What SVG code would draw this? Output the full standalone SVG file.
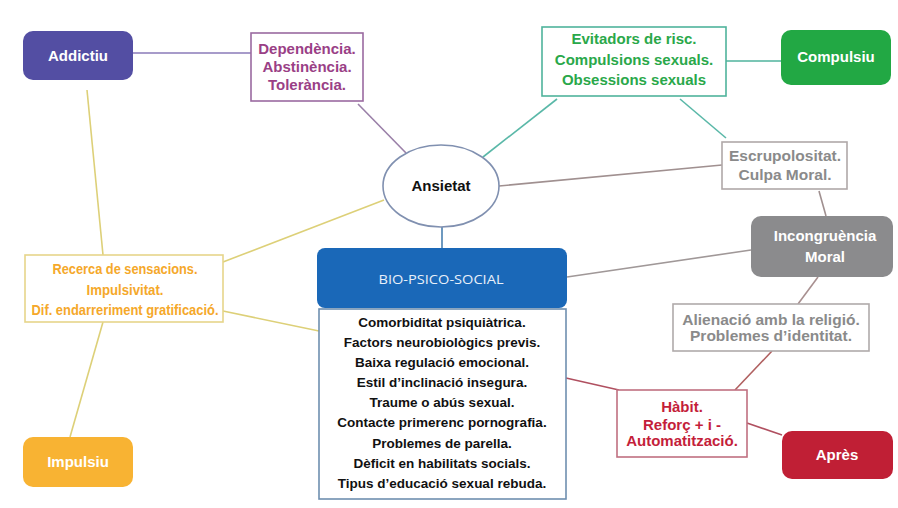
<svg xmlns="http://www.w3.org/2000/svg" width="898" height="508" viewBox="0 0 898 508">
<style>
text{font-family:"Liberation Sans",Arial,sans-serif;font-weight:bold;text-anchor:middle}
.w{fill:#ffffff;font-size:15px}
.c line{stroke-width:1.6;fill:none}
.box{fill:#ffffff;stroke-width:1.6}
</style>
<rect width="898" height="508" fill="#ffffff"/>
<g id="connectors" class="c">
<line x1="133" y1="53" x2="251" y2="53" stroke="#8a7ab8"/>
<line x1="358" y1="104" x2="406" y2="153" stroke="#9a80a8"/>
<line x1="726" y1="61" x2="781" y2="61" stroke="#4fb39c"/>
<line x1="557" y1="99" x2="483" y2="157" stroke="#5ab8a8"/>
<line x1="680" y1="99" x2="726" y2="138" stroke="#5ab8a8"/>
<line x1="722" y1="165" x2="499" y2="186" stroke="#a09090"/>
<line x1="819" y1="191" x2="826" y2="216" stroke="#a09090"/>
<line x1="751" y1="250" x2="567" y2="277" stroke="#a09898"/>
<line x1="442" y1="227" x2="442" y2="248" stroke="#4a80b0"/>
<line x1="87" y1="90" x2="103" y2="255" stroke="#ddd078"/>
<line x1="103" y1="322" x2="70" y2="437" stroke="#ddd078"/>
<line x1="223" y1="262" x2="384" y2="200" stroke="#ddd078"/>
<line x1="223" y1="311" x2="319" y2="331" stroke="#ddd078"/>
<line x1="818" y1="277" x2="798" y2="304" stroke="#a89090"/>
<line x1="772" y1="351" x2="735" y2="390" stroke="#b06060"/>
<line x1="566" y1="378" x2="619" y2="390" stroke="#b05060"/>
<line x1="747" y1="423" x2="782" y2="435" stroke="#b05060"/>
</g>
<g id="addictiu">
<rect x="23" y="31" width="110" height="49" rx="10" fill="#534ea3"/>
<text class="w" x="78" y="61">Addictiu</text>
</g>
<g id="dependencia">
<rect class="box" x="251" y="33" width="112" height="68" stroke="#9a6aa0"/>
<text x="307" y="54" font-size="15" fill="#9a3f86">Dependència.</text>
<text x="307" y="72" font-size="15" fill="#9a3f86">Abstinència.</text>
<text x="307" y="90" font-size="15" fill="#9a3f86">Tolerància.</text>
</g>
<g id="ansietat">
<ellipse cx="441" cy="186" rx="58" ry="41" fill="#ffffff" stroke="#8090b0" stroke-width="1.6"/>
<text x="441" y="191" font-size="15" fill="#111111">Ansietat</text>
</g>
<g id="evitadors">
<rect class="box" x="542" y="27" width="184" height="69" stroke="#4fb39c"/>
<text x="634" y="44" font-size="15" fill="#2aa84a">Evitadors de risc.</text>
<text x="634" y="65" font-size="15" fill="#2aa84a">Compulsions sexuals.</text>
<text x="634" y="85" font-size="15" fill="#2aa84a">Obsessions sexuals</text>
</g>
<g id="compulsiu">
<rect x="781" y="30" width="110" height="55" rx="10" fill="#22a844"/>
<text class="w" x="836" y="62">Compulsiu</text>
</g>
<g id="escrupolositat">
<rect class="box" x="722" y="142" width="125" height="47" stroke="#b0a8a8"/>
<text x="785" y="161" font-size="15.5" fill="#8a8a8a">Escrupolositat.</text>
<text x="785" y="180" font-size="15.5" fill="#8a8a8a">Culpa Moral.</text>
</g>
<g id="incongruencia">
<rect x="751" y="216" width="142" height="61" rx="10" fill="#8b8b8d"/>
<text class="w" x="825" y="241">Incongruència</text>
<text class="w" x="825" y="262">Moral</text>
</g>
<g id="bio">
<rect x="317" y="248" width="250" height="60" rx="8" fill="#1a68b8"/>
<text x="441" y="284" font-size="13" fill="#e8f0fa" style="font-family:'Open Sans','Liberation Sans',sans-serif;font-weight:normal" textLength="125" lengthAdjust="spacingAndGlyphs">BIO-PSICO-SOCIAL</text>
</g>
<g id="factors">
<rect class="box" x="319" y="309" width="247" height="190" stroke="#6e8fb0"/>
<text x="442" y="327" font-size="13.5" fill="#111111">Comorbiditat psiquiàtrica.</text>
<text x="442" y="347" font-size="13.5" fill="#111111">Factors neurobiològics previs.</text>
<text x="442" y="367" font-size="13.5" fill="#111111">Baixa regulació emocional.</text>
<text x="442" y="387" font-size="13.5" fill="#111111">Estil d’inclinació insegura.</text>
<text x="442" y="407" font-size="13.5" fill="#111111">Traume o abús sexual.</text>
<text x="442" y="427" font-size="13.5" fill="#111111">Contacte primerenc pornografia.</text>
<text x="442" y="448" font-size="13.5" fill="#111111">Problemes de parella.</text>
<text x="442" y="468" font-size="13.5" fill="#111111">Dèficit en habilitats socials.</text>
<text x="442" y="488" font-size="13.5" fill="#111111">Tipus d’educació sexual rebuda.</text>
</g>
<g id="recerca">
<rect class="box" x="25" y="255" width="198" height="67" stroke="#e6d58a"/>
<text x="125" y="274" font-size="15" fill="#f5a82a" textLength="145" lengthAdjust="spacingAndGlyphs">Recerca de sensacions.</text>
<text x="125" y="295" font-size="15" fill="#f5a82a" textLength="77" lengthAdjust="spacingAndGlyphs">Impulsivitat.</text>
<text x="125" y="315" font-size="15" fill="#f5a82a" textLength="187" lengthAdjust="spacingAndGlyphs">Dif. endarreriment gratificació.</text>
</g>
<g id="impulsiu">
<rect x="23" y="437" width="110" height="50" rx="10" fill="#f8b333"/>
<text class="w" x="78" y="467">Impulsiu</text>
</g>
<g id="alienacio">
<rect class="box" x="673" y="304" width="196" height="47" stroke="#b0aaaa"/>
<text x="771" y="325" font-size="15.5" fill="#8a8a8a">Alienació amb la religió.</text>
<text x="771" y="341" font-size="15.5" fill="#8a8a8a">Problemes d’identitat.</text>
</g>
<g id="habit">
<rect class="box" x="617" y="390" width="130" height="67" stroke="#c07080"/>
<text x="682" y="412" font-size="15" fill="#c41e3a">Hàbit.</text>
<text x="682" y="430" font-size="15" fill="#c41e3a">Reforç + i -</text>
<text x="682" y="446" font-size="15" fill="#c41e3a">Automatització.</text>
</g>
<g id="apres">
<rect x="782" y="431" width="111" height="48" rx="10" fill="#c01f35"/>
<text class="w" x="837" y="460">Après</text>
</g>
</svg>
